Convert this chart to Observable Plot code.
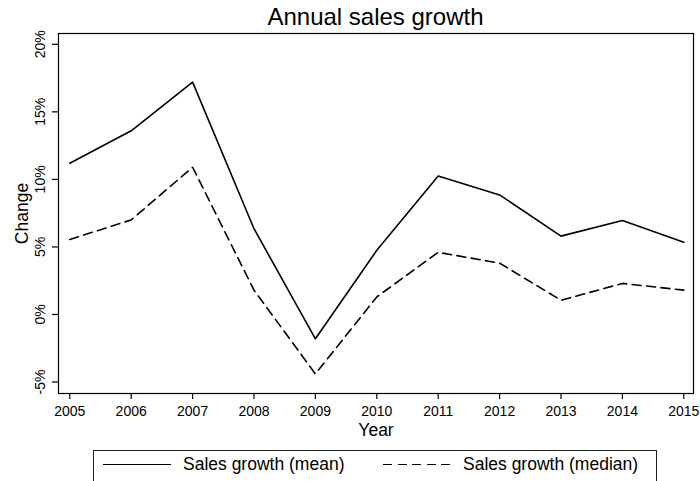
<!DOCTYPE html>
<html>
<head>
<meta charset="utf-8">
<script src="https://cdn.jsdelivr.net/npm/d3@7"></script>
<script src="https://cdn.jsdelivr.net/npm/@observablehq/plot@0.6"></script>
<style>
  html, body { margin: 0; padding: 0; background: #fff; }
  body { width: 700px; height: 481px; overflow: hidden; position: relative;
         font-family: Arial, "Liberation Sans", Helvetica, sans-serif; color: #000; }
  #title { position: absolute; top: 3px; left: 58px; width: 635px; text-align: center;
           font-size: 24px; line-height: 27px; }
  #chart { position: absolute; top: 30px; left: 0; }
  #legend { position: absolute; left: 93px; top: 450px; width: 564px; height: 40px;
            border: 1px solid #222; box-sizing: border-box; }
  .key { position: absolute; height: 0; }
  .lab { position: absolute; font-size: 17.5px; line-height: 20px; white-space: nowrap; }
</style>
</head>
<body>
<div id="title"></div>
<div id="chart"></div>
<div id="legend"></div>
<script>
const titleText = "Annual sales growth";
const xLabel = "Year";
const yLabel = "Change";
const years = [2005, 2006, 2007, 2008, 2009, 2010, 2011, 2012, 2013, 2014, 2015];
const meanGrowth = [11.2, 13.6, 17.2, 6.35, -1.8, 4.75, 10.25, 8.85, 5.8, 6.95, 5.35];
const medianGrowth = [5.55, 7.0, 10.9, 1.8, -4.4, 1.3, 4.6, 3.8, 1.05, 2.3, 1.8];
const yTicks = [-5, 0, 5, 10, 15, 20];
const seriesLabels = ["Sales growth (mean)", "Sales growth (median)"];
const dashes = "9,5.5";

const meanData = years.map((y, i) => ({year: y, value: meanGrowth[i]}));
const medianData = years.map((y, i) => ({year: y, value: medianGrowth[i]}));

document.getElementById("title").textContent = titleText;

const chart = Plot.plot({
  width: 700,
  height: 415,
  marginTop: 3,
  marginBottom: 52,
  marginLeft: 58,
  marginRight: 7,
  style: {fontFamily: 'Arial, "Liberation Sans", sans-serif', fontSize: "14px", background: "white", color: "black"},
  x: {domain: [2004.816, 2015.158], axis: null},
  y: {domain: [-5.85, 20.8], axis: null},
  marks: [
    Plot.axisX({ticks: years, tickSize: 6, tickPadding: 7, tickFormat: d => String(d), fontSize: 14, label: null, stroke: "black", fill: "black", strokeWidth: 1.2}),
    Plot.axisY({ticks: yTicks, tickSize: 6, label: null, fill: "none", stroke: "black", strokeWidth: 1.2}),
    Plot.text(yTicks, {y: d => d, text: d => `${d}%`, frameAnchor: "left", dx: -18, rotate: -90, textAnchor: "middle", lineAnchor: "middle", fontSize: 14, fill: "black"}),
    Plot.text([yLabel], {text: d => d, frameAnchor: "left", dx: -36, rotate: -90, textAnchor: "middle", lineAnchor: "middle", fontSize: 17.5, fill: "black"}),
    Plot.text([xLabel], {text: d => d, frameAnchor: "bottom", dy: 30, lineAnchor: "top", textAnchor: "middle", fontSize: 17.5, fill: "black"}),
    Plot.frame({stroke: "black", strokeWidth: 1.2}),
    Plot.line(meanData, {x: "year", y: "value", stroke: "black", strokeWidth: 1.6}),
    Plot.line(medianData, {x: "year", y: "value", stroke: "black", strokeWidth: 1.6, strokeDasharray: dashes})
  ]
});
document.getElementById("chart").appendChild(chart);

// Legend (positions relative to legend box at left 93, top 450)
const legend = document.getElementById("legend");
const keyStyles = [
  {left: 9, text: 89, solid: true},
  {left: 289, text: 369, solid: false}
];
seriesLabels.forEach((lab, i) => {
  const k = keyStyles[i];
  const key = document.createElement("div");
  key.className = "key";
  key.style.left = k.left + "px";
  key.style.top = "12.5px";
  key.style.width = "68px";
  key.style.height = "1.6px";
  key.style.background = k.solid ? "#000" : "repeating-linear-gradient(to right, #000 0 9px, transparent 9px 14.5px)";
  legend.appendChild(key);
  const t = document.createElement("div");
  t.className = "lab";
  t.style.left = k.text + "px";
  t.style.top = "3px";
  t.textContent = lab;
  legend.appendChild(t);
});
</script>
</body>
</html>
